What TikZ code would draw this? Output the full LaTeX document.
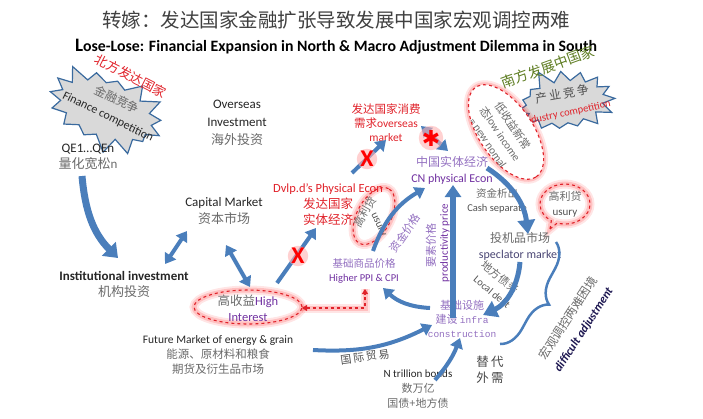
\documentclass[tikz,border=0pt]{standalone}
\usepackage{fontspec}
\setmainfont{Carlito}
\newfontfamily\cjk{Noto Sans CJK SC}
\newfontfamily\monof{Liberation Mono}
\newfontfamily\symf{DejaVu Sans}
\usetikzlibrary{arrows.meta,shapes.geometric,shapes.symbols,shapes.callouts,decorations.pathreplacing}
\newcommand\zh[1]{{\cjk #1}}
\newcommand\fs[2]{\fontsize{#1}{#2}\selectfont}
\definecolor{titlegray}{HTML}{404040}
\definecolor{zhgray}{HTML}{6A6A6A}
\definecolor{engdark}{HTML}{262626}
\definecolor{myred}{HTML}{E0222A}
\definecolor{cnpurple}{HTML}{7030A0}
\definecolor{ltpurple}{HTML}{9370C0}
\definecolor{arrowblue}{HTML}{4A7EBB}
\definecolor{olive}{HTML}{5E7D22}
\definecolor{navy}{HTML}{1C1650}
\definecolor{burstfill}{HTML}{D9D9D9}
\definecolor{burstedge}{HTML}{3A6A9E}
\tikzset{
  fat/.style={draw=arrowblue, line width=4pt, -{Triangle[width=13pt,length=10pt]}},
  fatboth/.style={draw=arrowblue, line width=4pt, {Triangle[width=13pt,length=10pt]}-{Triangle[width=13pt,length=10pt]}},
  glow/.style={preaction={draw=red, draw opacity=.10, line width=9pt, solid, arrows=-},
               preaction={draw=red, draw opacity=.16, line width=5pt, solid, arrows=-}},
  redring/.style={glow, draw=myred, dashed, line width=1.1pt},
  xmark/.style={circle, inner sep=0pt, fill=red!30, fill opacity=.6, text opacity=1, text=red, font=\bfseries\fs{24}{24}},
  burst/.style={starburst, draw=burstedge, fill=burstfill, line width=1.2pt, starburst points=15, starburst point height=16pt, inner sep=0pt},
}
\begin{document}
\begin{tikzpicture}[x=1pt,y=-1pt,font=\fs{13}{16}]
\useasboundingbox (0,0) rectangle (703,418);

% titles
\node[text=titlegray, font=\cjk\fs{19.5}{22}] (title) at (336,20) {转嫁：\kern0pt发达国家\kern0pt金融扩张\kern0pt导致\kern0pt发展中国家\kern0pt宏观调控\kern0pt两难};
\node[font=\bfseries\fs{15.8}{18}] (subtitle) at (336,47) {{\fs{19}{19}L}ose-Lose: Financial Expansion in North \& Macro Adjustment Dilemma in South};

% north and south
\node[burst, minimum width=128pt, minimum height=84pt, rotate=-22, random starburst=3] (burstN) at (106,110) {};
\node[burst, minimum width=110pt, minimum height=74pt, rotate=8, random starburst=5] (burstS) at (565,102) {};
\node[rotate=-25, text=zhgray, font=\cjk\fs{12}{14}] (finzh) at (117,99) {金融竞争};
\node[rotate=-26, text=engdark, font=\fs{12}{14}] (finen) at (108,117) {Finance competition};
\node[rotate=-27, text=myred, font=\cjk\fs{13}{15}] (north) at (131,76) {北方发达国家};
\node[rotate=20, text=olive, font=\cjk\fs{14}{16}] (south) at (548,67) {南方发展中国家};
\node[rotate=10, text=engdark!80, font=\cjk\fs{12}{14}] (indzh) at (562,94) {产\,业\,竞\,争};
\node[rotate=12, text=myred, font=\fs{10.5}{12}] (inden) at (567,113) {industry competition};
\node[redring, fill=white, ellipse, rotate=-56, minimum width=108pt, minimum height=54pt] (lowring) at (506,132) {};
\node[rotate=-56, align=center, font=\fs{11}{15}, text=zhgray] (lowinc) at (501,134) {\zh{低收益新常}\\\zh{态}low income\\= new nomal};

% left side
\node[align=center, text=engdark] (qe) at (88,157) {QE1…QEn\\\textcolor{zhgray}{\zh{量化宽松}n}};
\node[align=center, text=engdark] (inst) at (124,284) {\textbf{Institutional investment}\\\textcolor{zhgray}{\zh{机构投资}}};
\node[align=center, text=engdark, font=\fs{13}{18}] (overseas) at (237,123) {Overseas\\Investment\\\textcolor{zhgray}{\zh{海外投资}}};
\node[align=center, text=engdark, font=\fs{13}{17}] (capital) at (224,211) {Capital Market\\\textcolor{zhgray}{\zh{资本市场}}};
\node[align=center, text=myred, font=\fs{12.5}{16}] (dvlp) at (328,205) {Dvlp.d’s Physical Econ\\\zh{发达国家}\\\zh{实体经济}};
\node[align=center, text=myred, font=\fs{11.5}{14}] (ovmarket) at (386,123) {\zh{发达国家消费}\\\zh{需求}overseas\\market};
\node[redring, ellipse, minimum width=108pt, minimum height=34pt] (hiring) at (248,307) {};
\node[align=center, font=\fs{12.5}{16}, text=cnpurple] (hitxt) at (248,308) {\textcolor{zhgray}{\zh{高收益}}High\\Interest};
\node[align=center, font=\fs{11.5}{15}, text=engdark] (future) at (218,355) {Future Market of energy \& grain\\\textcolor{zhgray}{\zh{能源、原材料和粮食}}\\\textcolor{zhgray}{\zh{期货及衍生品市场}}};

% china side
\node[align=center, text=cnpurple, font=\fs{12}{16}] (cnecon) at (452,170) {\textcolor{ltpurple}{\zh{中国实体经济}}\\CN physical Econ};
\node[redring, ellipse, rotate=62, minimum width=62pt, minimum height=34pt] (usuryL) at (374,216) {};
\node[rotate=60, text=zhgray, font=\cjk\fs{11}{13}] (usuryLzh) at (365,212) {高利贷};
\node[rotate=-65, text=engdark!80, font=\fs{11}{13}] (usuryLen) at (378,225) {usury};
\node[redring, ellipse callout, align=center, minimum width=50pt, minimum height=40pt, inner sep=1pt, callout absolute pointer={(550,229)}, font=\fs{11}{15}, text=engdark!80] (usuryR) at (565,204) {\textcolor{zhgray}{\zh{高利贷}}\\usury};
\node[align=center, font=\fs{10.5}{14}] (cash) at (497,201) {\textcolor{zhgray}{\zh{资金析出}}\\\textcolor{engdark!80}{Cash separate}};
\node[align=center, font=\fs{12}{16}, text=navy!80] (spec) at (520,246) {\textcolor{zhgray}{\zh{投机品市场}}\\speclator market};
\node[rotate=-38, text=zhgray, font=\cjk\fs{11}{13}] (debtzh) at (500,277) {地方债务};
\node[rotate=-40, text=engdark!80, font=\fs{10.5}{12}] (debten) at (492,292) {Local debt};
\node[rotate=55, text=ltpurple, font=\cjk\fs{11}{13}] (fundp) at (405,233) {资金价格};
\node[rotate=90, text=ltpurple, font=\cjk\fs{11}{13}] (factorzh) at (431,245) {要素价格};
\node[rotate=90, text=cnpurple, font=\fs{11}{13}] (factoren) at (445,243) {productivity price};
\node[align=center, font=\fs{10.5}{14}, text=cnpurple] (ppi) at (364,271) {\textcolor{ltpurple}{\zh{基础商品价格}}\\Higher PPI \& CPI};
\node[align=center, font=\fs{11}{14}, text=ltpurple] (infra) at (462,319) {\zh{基础设施}\\\zh{建设} {\monof\fs{9.5}{14}infra}\\{\monof\fs{9.5}{14}construction}};
\node[rotate=8, text=engdark!80, font=\cjk\fs{11}{13}] (trade) at (365,357) {国\,际\,贸\,易};
\node[align=center, font=\fs{11}{15}, text=engdark] (bonds) at (418,389) {N trillion bonds\\\textcolor{zhgray}{\zh{数万亿}}\\\textcolor{zhgray}{\zh{国债+地方债}}};
\node[align=center, text=engdark!85, font=\cjk\fs{12.5}{16}] (subst) at (490,370) {替\,代\\外\,需};
\node[rotate=57, text=zhgray, font=\cjk\fs{12}{14}] (dilzh) at (568,318) {宏观调控两难困境};
\node[rotate=57, text=navy, font=\bfseries\itshape\fs{12}{14}] (dilen) at (584,330) {difficult adjustment};

% arrow ends
\coordinate (qeS) at (82,176);   \coordinate (qeE) at (118,258);
\coordinate (icA) at (165,264);  \coordinate (icB) at (187,231);
\coordinate (chA) at (226,245);  \coordinate (chB) at (250,287);
\coordinate (hdA) at (277,283);  \coordinate (hdB) at (316,228);
\coordinate (doA) at (352,173);  \coordinate (doB) at (386,140);
\coordinate (ocA) at (421,126);  \coordinate (ocB) at (448,151);
\coordinate (pcA) at (373,251);  \coordinate (pcB) at (425,188);
\coordinate (icC) at (453,318);  \coordinate (icD) at (453,185);
\coordinate (csA) at (487,168);  \coordinate (csB) at (528,234);
\coordinate (slA) at (520,262);  \coordinate (slB) at (483,315);
\coordinate (ipA) at (430,308);  \coordinate (ipB) at (383,288);
\coordinate (ftA) at (313,350);  \coordinate (ftB) at (432,325);
\coordinate (biA) at (435,380);  \coordinate (biB) at (460,338);
\coordinate (rdP) at (365,289);  \coordinate (rdH) at (302,308);
\coordinate (brA) at (556,242);  \coordinate (brB) at (500,344);

\draw[fat, line width=7pt, -{Triangle[width=19pt,length=13pt]}] (qeS) to[out=-85,in=135] (qeE);
\draw[fatboth] (icA) -- (icB);
\draw[fatboth] (chA) -- (chB);
\draw[fat] (hdA) -- (hdB);
\draw[fat] (doA) -- (doB);
\draw[fatboth] (ocA) -- (ocB);
\draw[fat] (pcA) to[bend left=20] (pcB);
\draw[fat, line width=6pt, -{Triangle[width=16pt,length=12pt]}] (icC) -- (icD);
\draw[fat, line width=5pt, -{Triangle[width=17pt,length=14pt]}] (csA) to[bend left=25] (csB);
\draw[fat, line width=5pt, -{Triangle[width=17pt,length=14pt]}] (slA) to[bend left=30] (slB);
\draw[fat] (ipA) to[bend left=20] (ipB);
\draw[fat] (ftA) to[bend right=15] (ftB);
\draw[fat] (biA) to[bend right=10] (biB);
\draw[glow, draw=myred, dashed, line width=1.3pt, {Triangle[width=6pt,length=5pt]}-{Triangle[width=6pt,length=5pt]}] (rdH) -| (rdP);
\draw[arrowblue, line width=2.5pt, decorate, decoration={brace, amplitude=24pt}] (brA) -- (brB);

% blocked flows
\node[xmark] (xA) at (298,256) {X};
\node[xmark] (xB) at (367,159) {X};
\node[xmark, font=\symf\bfseries\fs{22}{22}] (xC) at (431,138) {✱};
\end{tikzpicture}
\end{document}
